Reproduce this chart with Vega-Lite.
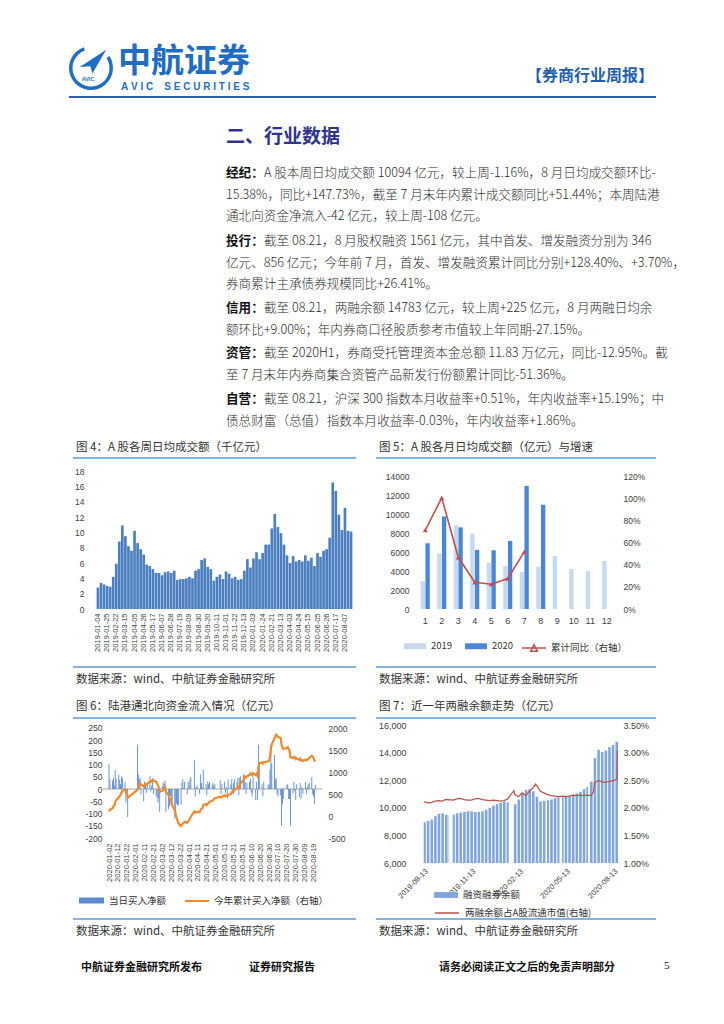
{
"$schema": "https://vega.github.io/schema/vega-lite/v6.json",
"background": "white",
"padding": {"left": 68, "top": 28, "right": 0, "bottom": 0},
"autosize": {"type": "pad"},
"bounds": "flush",
"columns": 2,
"spacing": {"row": 116, "column": 64},
"resolve": {"scale": {"color": "independent", "stroke": "independent"}},
"config": {
  "font": "Noto Sans CJK SC",
  "view": {"stroke": null},
  "axis": {"domain": false, "ticks": false, "grid": false, "labelFont": "Liberation Sans", "labelColor": "#404040", "labelFontSize": 8.5, "labelOverlap": false},
  "legend": {"labelFont": "Noto Sans CJK SC", "labelColor": "#333333", "labelFontSize": 9.5, "padding": 0},
  "text": {"font": "Noto Sans CJK SC"}
},
"concat": [
  {
    "width": 257, "height": 138,
    "layer": [
      {"data": {"values": [{"w":"2019-01-04","v":2.8},{"w":"2019-01-11","v":3.4},{"w":"2019-01-18","v":3.2},{"w":"2019-01-25","v":3.0},{"w":"2019-02-01","v":2.9},{"w":"2019-02-15","v":4.2},{"w":"2019-02-22","v":5.9},{"w":"2019-03-01","v":8.8},{"w":"2019-03-08","v":10.9},{"w":"2019-03-15","v":9.5},{"w":"2019-03-22","v":8.2},{"w":"2019-03-29","v":7.6},{"w":"2019-04-05","v":10.2},{"w":"2019-04-12","v":8.6},{"w":"2019-04-19","v":7.8},{"w":"2019-04-26","v":7.1},{"w":"2019-05-03","v":5.8},{"w":"2019-05-10","v":5.6},{"w":"2019-05-17","v":5.2},{"w":"2019-05-24","v":4.7},{"w":"2019-05-31","v":4.7},{"w":"2019-06-07","v":4.4},{"w":"2019-06-14","v":4.8},{"w":"2019-06-21","v":4.9},{"w":"2019-06-28","v":4.7},{"w":"2019-07-05","v":5.0},{"w":"2019-07-12","v":3.8},{"w":"2019-07-19","v":3.9},{"w":"2019-07-26","v":3.9},{"w":"2019-08-02","v":4.0},{"w":"2019-08-09","v":4.2},{"w":"2019-08-16","v":4.0},{"w":"2019-08-23","v":5.0},{"w":"2019-08-30","v":5.2},{"w":"2019-09-06","v":6.4},{"w":"2019-09-13","v":6.6},{"w":"2019-09-20","v":5.5},{"w":"2019-09-27","v":5.2},{"w":"2019-10-04","v":3.7},{"w":"2019-10-11","v":4.2},{"w":"2019-10-18","v":4.5},{"w":"2019-10-25","v":3.9},{"w":"2019-11-01","v":4.9},{"w":"2019-11-08","v":4.6},{"w":"2019-11-15","v":4.0},{"w":"2019-11-22","v":4.2},{"w":"2019-11-29","v":3.8},{"w":"2019-12-06","v":3.9},{"w":"2019-12-13","v":5.0},{"w":"2019-12-20","v":6.5},{"w":"2019-12-27","v":5.4},{"w":"2020-01-03","v":6.6},{"w":"2020-01-10","v":7.4},{"w":"2020-01-17","v":6.5},{"w":"2020-01-24","v":7.3},{"w":"2020-02-07","v":8.4},{"w":"2020-02-14","v":8.4},{"w":"2020-02-21","v":10.5},{"w":"2020-02-28","v":12.4},{"w":"2020-03-06","v":10.7},{"w":"2020-03-13","v":9.9},{"w":"2020-03-20","v":8.4},{"w":"2020-03-27","v":7.0},{"w":"2020-04-03","v":6.0},{"w":"2020-04-10","v":6.9},{"w":"2020-04-17","v":6.2},{"w":"2020-04-24","v":6.4},{"w":"2020-05-01","v":6.2},{"w":"2020-05-08","v":7.0},{"w":"2020-05-15","v":6.3},{"w":"2020-05-22","v":6.7},{"w":"2020-05-29","v":5.6},{"w":"2020-06-05","v":7.3},{"w":"2020-06-12","v":6.8},{"w":"2020-06-19","v":7.6},{"w":"2020-06-26","v":7.8},{"w":"2020-07-03","v":9.3},{"w":"2020-07-10","v":16.5},{"w":"2020-07-17","v":15.4},{"w":"2020-07-24","v":12.3},{"w":"2020-07-31","v":10.3},{"w":"2020-08-07","v":13.2},{"w":"2020-08-14","v":10.2},{"w":"2020-08-21","v":10.1}]},
       "mark": {"type": "bar", "color": "#4C7FC0"},
       "encoding": {
         "x": {"field": "w", "type": "ordinal", "sort": null, "title": null, "scale": {"paddingInner": 0.12, "paddingOuter": 0.2},
           "axis": {"values": ["2019-01-04","2019-01-25","2019-02-22","2019-03-15","2019-04-05","2019-04-26","2019-05-17","2019-06-07","2019-06-28","2019-07-19","2019-08-09","2019-08-30","2019-09-20","2019-10-11","2019-11-01","2019-11-22","2019-12-13","2020-01-03","2020-01-24","2020-02-21","2020-03-13","2020-04-03","2020-04-24","2020-05-15","2020-06-05","2020-06-26","2020-07-17","2020-08-07"], "labelAngle": 270, "labelAlign": "right", "labelBaseline": "middle", "labelFontSize": 7.5, "labelPadding": 4, "labelOverlap": false}},
         "y": {"field": "v", "type": "quantitative", "title": null, "scale": {"domain": [0, 18], "nice": false}, "axis": {"values": [0,2,4,6,8,10,12,14,16,18], "labelPadding": 12}}
       }},
      {"data": {"values": [{}]}, "mark": {"type": "rule", "strokeOpacity": 0}, "encoding": {"x": {"value": -27}, "x2": {"value": 0}, "y": {"value": -443}}},
      {"data": {"values": [{}]}, "mark": {"type": "rule", "color": "#2E5FA3", "strokeWidth": 2}, "encoding": {"x": {"value": -27}, "x2": {"value": 560}, "y": {"value": -374}}},
      {"data": {"values": [{}]}, "mark": {"type": "arc", "color": "#1F6EC4", "radius": 22, "radius2": 18.5, "theta": 1.0, "theta2": 5.95}, "encoding": {"x": {"value": -5}, "y": {"value": -403}}},
      {"data": {"values": [{}]}, "mark": {"type": "point", "shape": "M-1,0.3L1,-1L-0.05,0.8L-0.2,0.25Z", "size": 700, "filled": true, "color": "#1F6EC4", "opacity": 1}, "encoding": {"x": {"value": -3}, "y": {"value": -408}}},
      {"data": {"values": [{}]}, "mark": {"type": "text", "text": "AVIC", "fontSize": 5.5, "fontWeight": "bold", "font": "Liberation Sans", "color": "#1F6EC4", "align": "center", "baseline": "middle"}, "encoding": {"x": {"value": -8}, "y": {"value": -392}}},
      {"data": {"values": [{}]}, "mark": {"type": "text", "text": "中航证券", "fontSize": 33, "fontWeight": "bold", "color": "#1F6EC4", "align": "left", "baseline": "middle"}, "encoding": {"x": {"value": 22}, "y": {"value": -409}}},
      {"data": {"values": [{}]}, "mark": {"type": "text", "text": "A\u00a0V\u00a0I\u00a0C\u00a0\u00a0\u00a0\u00a0S\u00a0E\u00a0C\u00a0U\u00a0R\u00a0I\u00a0T\u00a0I\u00a0E\u00a0S", "fontSize": 10, "fontWeight": "bold", "font": "Liberation Sans", "color": "#1F6EC4", "align": "left", "baseline": "middle"}, "encoding": {"x": {"value": 25}, "y": {"value": -384}}},
      {"data": {"values": [{}]}, "mark": {"type": "text", "text": "【券商行业周报】", "fontSize": 16, "fontWeight": "bold", "color": "#1F5FAF", "align": "right", "baseline": "middle"}, "encoding": {"x": {"value": 558}, "y": {"value": -395}}},
      {"data": {"values": [{}]}, "mark": {"type": "text", "text": "二、行业数据", "fontSize": 19, "fontWeight": "bold", "color": "#2E3192", "align": "left", "baseline": "middle"}, "encoding": {"x": {"value": 130}, "y": {"value": -334}}},
      {"data": {"values": [{}]}, "mark": {"type": "text", "text": "经纪：", "fontSize": 12.6, "fontWeight": "bold", "color": "#111111", "align": "left", "baseline": "top"}, "encoding": {"x": {"value": 130}, "y": {"value": -304}}},
      {"data": {"values": [{}]}, "mark": {"type": "text", "text": "A 股本周日均成交额 10094 亿元，较上周-1.16%，8 月日均成交额环比-", "fontSize": 12.6, "fontWeight": 300, "color": "#2B2B2B", "align": "left", "baseline": "top"}, "encoding": {"x": {"value": 168}, "y": {"value": -304}}},
      {"data": {"values": [{}]}, "mark": {"type": "text", "text": ["15.38%，同比+147.73%，截至 7 月末年内累计成交额同比+51.44%；本周陆港", "通北向资金净流入-42 亿元，较上周-108 亿元。"], "fontSize": 12.6, "fontWeight": 300, "lineHeight": 21.5, "color": "#2B2B2B", "align": "left", "baseline": "top"}, "encoding": {"x": {"value": 130}, "y": {"value": -282.5}}},
      {"data": {"values": [{}]}, "mark": {"type": "text", "text": "投行：", "fontSize": 12.6, "fontWeight": "bold", "color": "#111111", "align": "left", "baseline": "top"}, "encoding": {"x": {"value": 130}, "y": {"value": -236}}},
      {"data": {"values": [{}]}, "mark": {"type": "text", "text": "截至 08.21，8 月股权融资 1561 亿元，其中首发、增发融资分别为 346", "fontSize": 12.6, "fontWeight": 300, "color": "#2B2B2B", "align": "left", "baseline": "top"}, "encoding": {"x": {"value": 168}, "y": {"value": -236}}},
      {"data": {"values": [{}]}, "mark": {"type": "text", "text": ["亿元、856 亿元；今年前 7 月，首发、增发融资累计同比分别+128.40%、+3.70%，", "券商累计主承债券规模同比+26.41%。"], "fontSize": 12.6, "fontWeight": 300, "lineHeight": 21.5, "color": "#2B2B2B", "align": "left", "baseline": "top"}, "encoding": {"x": {"value": 130}, "y": {"value": -214.5}}},
      {"data": {"values": [{}]}, "mark": {"type": "text", "text": "信用：", "fontSize": 12.6, "fontWeight": "bold", "color": "#111111", "align": "left", "baseline": "top"}, "encoding": {"x": {"value": 130}, "y": {"value": -169}}},
      {"data": {"values": [{}]}, "mark": {"type": "text", "text": "截至 08.21，两融余额 14783 亿元，较上周+225 亿元，8 月两融日均余", "fontSize": 12.6, "fontWeight": 300, "color": "#2B2B2B", "align": "left", "baseline": "top"}, "encoding": {"x": {"value": 168}, "y": {"value": -169}}},
      {"data": {"values": [{}]}, "mark": {"type": "text", "text": "额环比+9.00%；年内券商口径股质参考市值较上年同期-27.15%。", "fontSize": 12.6, "fontWeight": 300, "color": "#2B2B2B", "align": "left", "baseline": "top"}, "encoding": {"x": {"value": 130}, "y": {"value": -147.5}}},
      {"data": {"values": [{}]}, "mark": {"type": "text", "text": "资管：", "fontSize": 12.6, "fontWeight": "bold", "color": "#111111", "align": "left", "baseline": "top"}, "encoding": {"x": {"value": 130}, "y": {"value": -124}}},
      {"data": {"values": [{}]}, "mark": {"type": "text", "text": "截至 2020H1，券商受托管理资本金总额 11.83 万亿元，同比-12.95%。截", "fontSize": 12.6, "fontWeight": 300, "color": "#2B2B2B", "align": "left", "baseline": "top"}, "encoding": {"x": {"value": 168}, "y": {"value": -124}}},
      {"data": {"values": [{}]}, "mark": {"type": "text", "text": "至 7 月末年内券商集合资管产品新发行份额累计同比-51.36%。", "fontSize": 12.6, "fontWeight": 300, "color": "#2B2B2B", "align": "left", "baseline": "top"}, "encoding": {"x": {"value": 130}, "y": {"value": -102.5}}},
      {"data": {"values": [{}]}, "mark": {"type": "text", "text": "自营：", "fontSize": 12.6, "fontWeight": "bold", "color": "#111111", "align": "left", "baseline": "top"}, "encoding": {"x": {"value": 130}, "y": {"value": -78}}},
      {"data": {"values": [{}]}, "mark": {"type": "text", "text": "截至 08.21，沪深 300 指数本月收益率+0.51%，年内收益率+15.19%；中", "fontSize": 12.6, "fontWeight": 300, "color": "#2B2B2B", "align": "left", "baseline": "top"}, "encoding": {"x": {"value": 168}, "y": {"value": -78}}},
      {"data": {"values": [{}]}, "mark": {"type": "text", "text": "债总财富（总值）指数本月收益率-0.03%，年内收益率+1.86%。", "fontSize": 12.6, "fontWeight": 300, "color": "#2B2B2B", "align": "left", "baseline": "top"}, "encoding": {"x": {"value": 130}, "y": {"value": -56.5}}},
      {"data": {"values": [{}]}, "mark": {"type": "text", "text": "图 4：A 股各周日均成交额（千亿元）", "fontSize": 11.5, "color": "#333333", "align": "left", "baseline": "middle"}, "encoding": {"x": {"value": -20}, "y": {"value": -23}}},
      {"data": {"values": [{}]}, "mark": {"type": "rule", "color": "#5B9BD5", "strokeWidth": 1.3}, "encoding": {"x": {"value": -23}, "x2": {"value": 260}, "y": {"value": -13}}},
      {"data": {"values": [{}]}, "mark": {"type": "rule", "color": "#5B9BD5", "strokeWidth": 1.3}, "encoding": {"x": {"value": -23}, "x2": {"value": 260}, "y": {"value": 196}}},
      {"data": {"values": [{}]}, "mark": {"type": "text", "text": "数据来源：wind、中航证券金融研究所", "align": "left", "baseline": "middle", "fontSize": 11.5, "color": "#333333"}, "encoding": {"x": {"value": -20}, "y": {"value": 209}}},
      {"data": {"values": [{}]}, "mark": {"type": "text", "text": "中航证券金融研究所发布", "fontSize": 11, "fontWeight": "bold", "color": "#111111", "align": "left", "baseline": "middle"}, "encoding": {"x": {"value": -15}, "y": {"value": 497}}},
      {"data": {"values": [{}]}, "mark": {"type": "text", "text": "证券研究报告", "fontSize": 11, "fontWeight": "bold", "color": "#111111", "align": "left", "baseline": "middle"}, "encoding": {"x": {"value": 153}, "y": {"value": 497}}},
      {"data": {"values": [{}]}, "mark": {"type": "text", "text": "请务必阅读正文之后的免责声明部分", "fontSize": 11, "fontWeight": "bold", "color": "#111111", "align": "left", "baseline": "middle"}, "encoding": {"x": {"value": 343}, "y": {"value": 497}}},
      {"data": {"values": [{}]}, "mark": {"type": "text", "text": "5", "fontSize": 11, "font": "Liberation Serif", "color": "#111111", "align": "left", "baseline": "middle"}, "encoding": {"x": {"value": 568}, "y": {"value": 495}}}
    ]
  },
  {
    "width": 198, "height": 138,
    "layer": [
      {"data": {"values": [{"m":1,"yr":"2019","v":2950},{"m":2,"yr":"2019","v":5900},{"m":3,"yr":"2019","v":8870},{"m":4,"yr":"2019","v":8000},{"m":5,"yr":"2019","v":4900},{"m":6,"yr":"2019","v":4580},{"m":7,"yr":"2019","v":3940},{"m":8,"yr":"2019","v":4470},{"m":9,"yr":"2019","v":5630},{"m":10,"yr":"2019","v":4230},{"m":11,"yr":"2019","v":4010},{"m":12,"yr":"2019","v":5100},{"m":1,"yr":"2020","v":6970},{"m":2,"yr":"2020","v":9820},{"m":3,"yr":"2020","v":8660},{"m":4,"yr":"2020","v":6270},{"m":5,"yr":"2020","v":6230},{"m":6,"yr":"2020","v":7220},{"m":7,"yr":"2020","v":13060},{"m":8,"yr":"2020","v":11050}]},
       "mark": {"type": "bar"},
       "encoding": {
         "x": {"field": "m", "type": "ordinal", "title": null, "scale": {"paddingInner": 0.45, "paddingOuter": 0.225}, "axis": {"labelAngle": 0, "labelFontSize": 9, "labelPadding": 7}},
         "xOffset": {"field": "yr", "type": "nominal", "scale": {"paddingInner": 0.08}},
         "y": {"field": "v", "type": "quantitative", "title": null, "scale": {"domain": [0, 14636], "nice": false}, "axis": {"values": [0,2000,4000,6000,8000,10000,12000,14000], "labelExpr": "'' + datum.value", "labelPadding": 8}},
         "color": {"field": "yr", "type": "nominal", "scale": {"domain": ["2019","2020"], "range": ["#C5D9F1","#4A86D8"]}, "legend": {"title": null, "orient": "none", "legendX": -13, "legendY": 164, "direction": "horizontal", "symbolType": "M-1,-0.27H1V0.27H-1Z", "symbolSize": 484, "symbolStrokeWidth": 0, "labelOffset": 5, "columnPadding": 12}}
       }},
      {"data": {"values": [{"m":1,"p":0.717},{"m":2,"p":1.01},{"m":3,"p":0.47},{"m":4,"p":0.243},{"m":5,"p":0.225},{"m":6,"p":0.277},{"m":7,"p":0.52}]},
       "encoding": {
         "x": {"field": "m", "type": "ordinal"},
         "y": {"field": "p", "type": "quantitative", "title": null, "scale": {"domain": [0, 1.2545], "nice": false}, "axis": {"orient": "right", "values": [0,0.2,0.4,0.6,0.8,1.0,1.2], "format": ".0%", "labelPadding": 8}}
       },
       "layer": [
         {"mark": {"type": "line", "strokeWidth": 1.6}, "encoding": {"stroke": {"datum": "累计同比（右轴）", "scale": {"range": ["#C0504D"]}, "legend": {"title": null, "orient": "none", "legendX": 104, "legendY": 164, "symbolType": "M-1,0H1M-0.28,0.28L0,-0.28L0.28,0.28Z", "symbolSize": 576, "symbolStrokeWidth": 1.5, "labelOffset": 4}}}},
         {"mark": {"type": "point", "shape": "triangle-up", "filled": true, "size": 24, "color": "#C0504D", "opacity": 1}}
       ]},
      {"data": {"values": [{}]}, "mark": {"type": "text", "text": "图 5：A 股各月日均成交额（亿元）与增速", "fontSize": 11.5, "color": "#333333", "align": "left", "baseline": "middle"}, "encoding": {"x": {"value": -38}, "y": {"value": -23}}},
      {"data": {"values": [{}]}, "mark": {"type": "rule", "color": "#5B9BD5", "strokeWidth": 1.3}, "encoding": {"x": {"value": -41}, "x2": {"value": 239}, "y": {"value": -13}}},
      {"data": {"values": [{}]}, "mark": {"type": "rule", "color": "#5B9BD5", "strokeWidth": 1.3}, "encoding": {"x": {"value": -41}, "x2": {"value": 239}, "y": {"value": 196}}},
      {"data": {"values": [{}]}, "mark": {"type": "text", "text": "数据来源：wind、中航证券金融研究所", "align": "left", "baseline": "middle", "fontSize": 11.5, "color": "#333333"}, "encoding": {"x": {"value": -38}, "y": {"value": 209}}}
    ],
    "resolve": {"scale": {"y": "independent"}}
  },
  {
    "width": 227, "height": 113,
    "data": {"values": [
{"d":"2020-01-02","v":103,"c":103},{"d":"2020-01-03","v":40,"c":143},{"d":"2020-01-06","v":35,"c":178},{"d":"2020-01-07","v":45,"c":223},{"d":"2020-01-08","v":15,"c":238},{"d":"2020-01-09","v":78,"c":316},{"d":"2020-01-10","v":42,"c":358},{"d":"2020-01-13","v":60,"c":418},{"d":"2020-01-14","v":38,"c":456},{"d":"2020-01-15","v":20,"c":476},{"d":"2020-01-16","v":52,"c":528},{"d":"2020-01-17","v":46,"c":574},{"d":"2020-01-20","v":30,"c":604},{"d":"2020-01-21","v":-55,"c":549},{"d":"2020-01-22","v":-20,"c":529},{"d":"2020-01-23","v":-114,"c":415},
{"d":"2020-02-03","v":182,"c":597},{"d":"2020-02-04","v":60,"c":657},{"d":"2020-02-05","v":40,"c":697},{"d":"2020-02-06","v":45,"c":742},{"d":"2020-02-07","v":-22,"c":720},{"d":"2020-02-10","v":-50,"c":670},{"d":"2020-02-11","v":30,"c":700},{"d":"2020-02-12","v":25,"c":725},{"d":"2020-02-13","v":-15,"c":710},{"d":"2020-02-14","v":20,"c":730},{"d":"2020-02-17","v":54,"c":784},{"d":"2020-02-18","v":-10,"c":774},{"d":"2020-02-19","v":15,"c":789},{"d":"2020-02-20","v":38,"c":827},{"d":"2020-02-21","v":-20,"c":807},{"d":"2020-02-24","v":-30,"c":777},{"d":"2020-02-25","v":-32,"c":745},{"d":"2020-02-26","v":-55,"c":690},{"d":"2020-02-27","v":-40,"c":650},{"d":"2020-02-28","v":-95,"c":555},
{"d":"2020-03-02","v":12,"c":567},{"d":"2020-03-03","v":27,"c":594},{"d":"2020-03-04","v":20,"c":614},{"d":"2020-03-05","v":35,"c":649},{"d":"2020-03-06","v":-94,"c":555},{"d":"2020-03-09","v":-82,"c":473},{"d":"2020-03-10","v":-70,"c":403},{"d":"2020-03-11","v":-28,"c":375},{"d":"2020-03-12","v":-64,"c":311},{"d":"2020-03-13","v":-60,"c":251},{"d":"2020-03-16","v":-119,"c":132},{"d":"2020-03-17","v":-109,"c":23},{"d":"2020-03-18","v":-59,"c":-36},{"d":"2020-03-19","v":-66,"c":-102},{"d":"2020-03-20","v":-65,"c":-167},{"d":"2020-03-23","v":-63,"c":-230},{"d":"2020-03-24","v":25,"c":-205},{"d":"2020-03-25","v":40,"c":-165},{"d":"2020-03-26","v":5,"c":-160},{"d":"2020-03-27","v":30,"c":-130},{"d":"2020-03-30","v":-20,"c":-150},{"d":"2020-03-31","v":30,"c":-120},
{"d":"2020-04-01","v":15,"c":-105},{"d":"2020-04-02","v":40,"c":-65},{"d":"2020-04-03","v":50,"c":-15},{"d":"2020-04-07","v":120,"c":105},{"d":"2020-04-08","v":-30,"c":75},{"d":"2020-04-09","v":10,"c":85},{"d":"2020-04-10","v":15,"c":100},{"d":"2020-04-13","v":-20,"c":80},{"d":"2020-04-14","v":60,"c":140},{"d":"2020-04-15","v":25,"c":165},{"d":"2020-04-16","v":6,"c":171},{"d":"2020-04-17","v":80,"c":251},{"d":"2020-04-20","v":20,"c":271},{"d":"2020-04-21","v":-25,"c":246},{"d":"2020-04-22","v":30,"c":276},{"d":"2020-04-23","v":21,"c":297},{"d":"2020-04-24","v":30,"c":327},{"d":"2020-04-27","v":18,"c":345},{"d":"2020-04-28","v":25,"c":370},{"d":"2020-04-29","v":13,"c":383},{"d":"2020-04-30","v":20,"c":403},
{"d":"2020-05-06","v":36,"c":439},{"d":"2020-05-07","v":-20,"c":419},{"d":"2020-05-08","v":22,"c":441},{"d":"2020-05-11","v":30,"c":471},{"d":"2020-05-12","v":-15,"c":456},{"d":"2020-05-13","v":10,"c":466},{"d":"2020-05-14","v":-25,"c":441},{"d":"2020-05-15","v":39,"c":480},{"d":"2020-05-18","v":20,"c":500},{"d":"2020-05-19","v":40,"c":540},{"d":"2020-05-20","v":-10,"c":530},{"d":"2020-05-21","v":24,"c":554},{"d":"2020-05-22","v":40,"c":594},{"d":"2020-05-25","v":30,"c":624},{"d":"2020-05-26","v":48,"c":672},{"d":"2020-05-27","v":-25,"c":647},{"d":"2020-05-28","v":45,"c":692},{"d":"2020-05-29","v":53,"c":745},
{"d":"2020-06-01","v":60,"c":805},{"d":"2020-06-02","v":60,"c":865},{"d":"2020-06-03","v":30,"c":895},{"d":"2020-06-04","v":-20,"c":875},{"d":"2020-06-05","v":25,"c":900},{"d":"2020-06-08","v":30,"c":930},{"d":"2020-06-09","v":40,"c":970},{"d":"2020-06-10","v":-15,"c":955},{"d":"2020-06-11","v":-30,"c":925},{"d":"2020-06-12","v":49,"c":974},{"d":"2020-06-15","v":-45,"c":929},{"d":"2020-06-16","v":30,"c":959},{"d":"2020-06-17","v":-46,"c":913},{"d":"2020-06-18","v":181,"c":1094},{"d":"2020-06-19","v":108,"c":1202},{"d":"2020-06-22","v":20,"c":1222},{"d":"2020-06-23","v":-30,"c":1192},{"d":"2020-06-24","v":30,"c":1222},{"d":"2020-06-29","v":18,"c":1240},{"d":"2020-06-30","v":20,"c":1260},
{"d":"2020-07-01","v":80,"c":1340},{"d":"2020-07-02","v":180,"c":1520},{"d":"2020-07-03","v":105,"c":1625},{"d":"2020-07-06","v":140,"c":1765},{"d":"2020-07-07","v":40,"c":1805},{"d":"2020-07-08","v":44,"c":1849},{"d":"2020-07-09","v":-20,"c":1829},{"d":"2020-07-10","v":-30,"c":1799},{"d":"2020-07-13","v":-26,"c":1773},{"d":"2020-07-14","v":-150,"c":1623},{"d":"2020-07-15","v":-60,"c":1563},{"d":"2020-07-16","v":-40,"c":1523},{"d":"2020-07-17","v":5,"c":1528},{"d":"2020-07-20","v":17,"c":1545},{"d":"2020-07-21","v":20,"c":1565},{"d":"2020-07-22","v":-40,"c":1525},{"d":"2020-07-23","v":-40,"c":1485},{"d":"2020-07-24","v":-150,"c":1335},{"d":"2020-07-27","v":-19,"c":1316},{"d":"2020-07-28","v":30,"c":1346},{"d":"2020-07-29","v":-10,"c":1336},{"d":"2020-07-30","v":-45,"c":1291},{"d":"2020-07-31","v":20,"c":1311},
{"d":"2020-08-03","v":-33,"c":1278},{"d":"2020-08-04","v":25,"c":1303},{"d":"2020-08-05","v":-40,"c":1263},{"d":"2020-08-06","v":10,"c":1273},{"d":"2020-08-07","v":-19,"c":1254},{"d":"2020-08-10","v":30,"c":1284},{"d":"2020-08-11","v":-20,"c":1264},{"d":"2020-08-12","v":10,"c":1274},{"d":"2020-08-13","v":20,"c":1294},{"d":"2020-08-14","v":26,"c":1320},{"d":"2020-08-17","v":50,"c":1370},{"d":"2020-08-18","v":-20,"c":1350},{"d":"2020-08-19","v":-30,"c":1320},{"d":"2020-08-20","v":-60,"c":1260},{"d":"2020-08-21","v":18,"c":1278}
    ]},
    "layer": [
      {"layer": [
        {"mark": {"type": "rule", "color": "#D8D0C2", "strokeWidth": 1.3}, "encoding": {"y": {"datum": 0}, "x": {"value": 7}, "x2": {"value": 226}}},
        {"mark": {"type": "bar", "width": 0.9},
         "encoding": {
           "x": {"field": "d", "type": "temporal", "title": null, "scale": {"type": "utc", "domain": [1577145600000, 1598227200000], "nice": false},
             "axis": {"values": [1577923200000,1578787200000,1579651200000,1580515200000,1581379200000,1582243200000,1583107200000,1583971200000,1584835200000,1585699200000,1586563200000,1587427200000,1588291200000,1589155200000,1590019200000,1590883200000,1591747200000,1592611200000,1593475200000,1594339200000,1595203200000,1596067200000,1596931200000,1597795200000], "format": "%Y-%m-%d", "labelAngle": 270, "labelAlign": "right", "labelBaseline": "middle", "labelFontSize": 7.5, "labelPadding": 5, "labelOverlap": false, "labelFlush": false, "labelSeparation": 0}},
           "y": {"field": "v", "type": "quantitative"},
           "color": {"datum": "当日买入净额", "scale": {"range": ["#5B8CD1"]}, "legend": {"title": null, "orient": "none", "legendX": -17, "legendY": 163, "symbolType": "M-1,-0.24H1V0.24H-1Z", "symbolSize": 625, "symbolStrokeWidth": 0, "labelOffset": 5}}
         }}
       ],
       "encoding": {"y": {"field": "v", "type": "quantitative", "title": null, "scale": {"domain": [-200, 262.27], "nice": false, "zero": false}, "axis": {"values": [-200,-150,-100,-50,0,50,100,150,200,250], "labelExpr": "'' + datum.value", "offset": -7, "labelPadding": 1}}}
      },
      {"mark": {"type": "line", "strokeWidth": 2.2},
       "encoding": {
         "x": {"field": "d", "type": "temporal", "title": null, "axis": {"values": [1577923200000,1578787200000,1579651200000,1580515200000,1581379200000,1582243200000,1583107200000,1583971200000,1584835200000,1585699200000,1586563200000,1587427200000,1588291200000,1589155200000,1590019200000,1590883200000,1591747200000,1592611200000,1593475200000,1594339200000,1595203200000,1596067200000,1596931200000,1597795200000], "format": "%Y-%m-%d", "labelAngle": 270, "labelAlign": "right", "labelBaseline": "middle", "labelFontSize": 7.5, "labelPadding": 5, "labelOverlap": false, "labelFlush": false, "labelSeparation": 0}},
         "y": {"field": "c", "type": "quantitative", "title": null, "scale": {"domain": [-500, 2068.2], "nice": false, "zero": false}, "axis": {"orient": "right", "values": [-500,0,500,1000,1500,2000], "labelExpr": "'' + datum.value", "labelPadding": 5}},
         "stroke": {"datum": "今年累计买入净额（右轴）", "scale": {"range": ["#F08A2C"]}, "legend": {"title": null, "orient": "none", "legendX": 88, "legendY": 163, "symbolType": "stroke", "symbolSize": 576, "symbolStrokeWidth": 2, "labelOffset": 4}}
       }},
      {"data": {"values": [{}]}, "mark": {"type": "text", "text": "图 6：陆港通北向资金流入情况（亿元）", "fontSize": 11.5, "color": "#333333", "align": "left", "baseline": "middle"}, "encoding": {"x": {"value": -20}, "y": {"value": -18}}},
      {"data": {"values": [{}]}, "mark": {"type": "rule", "color": "#5B9BD5", "strokeWidth": 1.3}, "encoding": {"x": {"value": -23}, "x2": {"value": 260}, "y": {"value": -7}}},
      {"data": {"values": [{}]}, "mark": {"type": "rule", "color": "#5B9BD5", "strokeWidth": 1.3}, "encoding": {"x": {"value": -23}, "x2": {"value": 260}, "y": {"value": 194}}},
      {"data": {"values": [{}]}, "mark": {"type": "text", "text": "数据来源：wind、中航证券金融研究所", "align": "left", "baseline": "middle", "fontSize": 11.5, "color": "#333333"}, "encoding": {"x": {"value": -20}, "y": {"value": 207}}}
    ],
    "resolve": {"scale": {"y": "independent"}}
  },
  {
    "width": 201, "height": 138,
    "layer": [
      {"data": {"values": [
{"s":"2019-08-13","e":"2019-08-17","v":8950},{"s":"2019-08-19","e":"2019-08-24","v":9050},{"s":"2019-08-26","e":"2019-08-31","v":9150},{"s":"2019-09-02","e":"2019-09-07","v":9400},{"s":"2019-09-09","e":"2019-09-14","v":9550},{"s":"2019-09-16","e":"2019-09-21","v":9600},{"s":"2019-09-23","e":"2019-09-28","v":9500},{"s":"2019-09-30","e":"2019-10-01","v":9450},{"s":"2019-10-08","e":"2019-10-12","v":9500},{"s":"2019-10-14","e":"2019-10-19","v":9600},{"s":"2019-10-21","e":"2019-10-26","v":9650},{"s":"2019-10-28","e":"2019-11-02","v":9700},{"s":"2019-11-04","e":"2019-11-09","v":9750},{"s":"2019-11-11","e":"2019-11-16","v":9750},{"s":"2019-11-18","e":"2019-11-23","v":9700},{"s":"2019-11-25","e":"2019-11-30","v":9700},{"s":"2019-12-02","e":"2019-12-07","v":9750},{"s":"2019-12-09","e":"2019-12-14","v":9850},{"s":"2019-12-16","e":"2019-12-21","v":10000},{"s":"2019-12-23","e":"2019-12-28","v":10150},{"s":"2019-12-30","e":"2020-01-04","v":10250},{"s":"2020-01-06","e":"2020-01-11","v":10350},{"s":"2020-01-13","e":"2020-01-18","v":10450},{"s":"2020-01-20","e":"2020-01-24","v":10400},{"s":"2020-02-03","e":"2020-02-08","v":10250},{"s":"2020-02-10","e":"2020-02-15","v":10600},{"s":"2020-02-17","e":"2020-02-22","v":11000},{"s":"2020-02-24","e":"2020-02-29","v":11300},{"s":"2020-03-02","e":"2020-03-07","v":11350},{"s":"2020-03-09","e":"2020-03-14","v":11200},{"s":"2020-03-16","e":"2020-03-21","v":10800},{"s":"2020-03-23","e":"2020-03-28","v":10450},{"s":"2020-03-30","e":"2020-04-04","v":10500},{"s":"2020-04-07","e":"2020-04-11","v":10550},{"s":"2020-04-13","e":"2020-04-18","v":10600},{"s":"2020-04-20","e":"2020-04-25","v":10700},{"s":"2020-04-27","e":"2020-05-01","v":10750},{"s":"2020-05-06","e":"2020-05-09","v":10800},{"s":"2020-05-11","e":"2020-05-16","v":10800},{"s":"2020-05-18","e":"2020-05-23","v":10850},{"s":"2020-05-25","e":"2020-05-30","v":10950},{"s":"2020-06-01","e":"2020-06-06","v":11050},{"s":"2020-06-08","e":"2020-06-13","v":11150},{"s":"2020-06-15","e":"2020-06-20","v":11350},{"s":"2020-06-22","e":"2020-06-25","v":11500},{"s":"2020-06-29","e":"2020-07-04","v":11900},{"s":"2020-07-06","e":"2020-07-11","v":13600},{"s":"2020-07-13","e":"2020-07-18","v":14200},{"s":"2020-07-20","e":"2020-07-25","v":14050},{"s":"2020-07-27","e":"2020-08-01","v":14150},{"s":"2020-08-03","e":"2020-08-08","v":14400},{"s":"2020-08-10","e":"2020-08-15","v":14550},{"s":"2020-08-17","e":"2020-08-22","v":14780}
       ]},
       "mark": {"type": "bar"},
       "encoding": {
         "x": {"field": "s", "type": "temporal", "title": null, "scale": {"type": "utc", "domain": [1564531200000, 1598054400000], "nice": false},
           "axis": {"values": [1565654400000, 1573603200000, 1581552000000, 1589328000000, 1597276800000], "format": "%Y-%m-%d", "labelAngle": 315, "labelAlign": "right", "labelBaseline": "top", "labelFontSize": 7.5, "labelPadding": 4, "labelOverlap": false, "labelFlush": false}},
         "x2": {"field": "e"},
         "y": {"field": "v", "type": "quantitative", "title": null, "scale": {"domain": [6000, 16000], "nice": false, "zero": false}, "axis": {"values": [6000,8000,10000,12000,14000,16000], "format": ",d", "labelPadding": 11, "labelFontSize": 9}},
         "y2": {"datum": 6000},
         "color": {"datum": "融资融券余额", "scale": {"range": ["#7EA6DC"]}, "legend": {"title": null, "orient": "none", "legendX": 17, "legendY": 158, "symbolType": "M-1,-0.24H1V0.24H-1Z", "symbolSize": 576, "symbolStrokeWidth": 0, "labelOffset": 5}}
       }},
      {"data": {"values": [{"d":"2019-08-14","r":0.0211},{"d":"2019-08-21","r":0.0209},{"d":"2019-08-28","r":0.0210},{"d":"2019-09-04","r":0.0212},{"d":"2019-09-11","r":0.0213},{"d":"2019-09-18","r":0.0212},{"d":"2019-09-25","r":0.0215},{"d":"2019-10-09","r":0.0214},{"d":"2019-10-16","r":0.0216},{"d":"2019-10-23","r":0.0217},{"d":"2019-10-30","r":0.0215},{"d":"2019-11-06","r":0.0214},{"d":"2019-11-13","r":0.0214},{"d":"2019-11-20","r":0.0216},{"d":"2019-11-27","r":0.0217},{"d":"2019-12-04","r":0.0215},{"d":"2019-12-11","r":0.0214},{"d":"2019-12-18","r":0.0213},{"d":"2019-12-25","r":0.0214},{"d":"2020-01-02","r":0.0213},{"d":"2020-01-08","r":0.0212},{"d":"2020-01-15","r":0.0213},{"d":"2020-01-22","r":0.0216},{"d":"2020-02-03","r":0.0231},{"d":"2020-02-05","r":0.0224},{"d":"2020-02-12","r":0.0220},{"d":"2020-02-19","r":0.0227},{"d":"2020-02-26","r":0.0222},{"d":"2020-03-04","r":0.0230},{"d":"2020-03-11","r":0.0236},{"d":"2020-03-16","r":0.0243},{"d":"2020-03-20","r":0.0238},{"d":"2020-03-25","r":0.0230},{"d":"2020-04-01","r":0.0227},{"d":"2020-04-08","r":0.0224},{"d":"2020-04-15","r":0.0222},{"d":"2020-04-22","r":0.0221},{"d":"2020-04-29","r":0.0220},{"d":"2020-05-07","r":0.0221},{"d":"2020-05-13","r":0.0220},{"d":"2020-05-20","r":0.0221},{"d":"2020-05-27","r":0.0223},{"d":"2020-06-03","r":0.0222},{"d":"2020-06-10","r":0.0223},{"d":"2020-06-17","r":0.0222},{"d":"2020-06-24","r":0.0223},{"d":"2020-07-01","r":0.0222},{"d":"2020-07-06","r":0.0230},{"d":"2020-07-08","r":0.0246},{"d":"2020-07-15","r":0.0249},{"d":"2020-07-22","r":0.0247},{"d":"2020-07-29","r":0.0246},{"d":"2020-08-05","r":0.0248},{"d":"2020-08-12","r":0.0249},{"d":"2020-08-20","r":0.0252},{"d":"2020-08-21","r":0.0304}]},
       "mark": {"type": "line", "strokeWidth": 1.3},
       "encoding": {
         "x": {"field": "d", "type": "temporal"},
         "y": {"field": "r", "type": "quantitative", "title": null, "scale": {"domain": [0.01, 0.035], "nice": false, "zero": false}, "axis": {"orient": "right", "values": [0.01,0.015,0.02,0.025,0.03,0.035], "format": ".2%", "labelPadding": 5, "labelFontSize": 9}},
         "stroke": {"datum": "两融余额占A股流通市值(右轴)", "scale": {"range": ["#C0504D"]}, "legend": {"title": null, "orient": "none", "legendX": 17, "legendY": 175, "symbolType": "stroke", "symbolSize": 576, "symbolStrokeWidth": 1.5, "labelOffset": 5}}
       }},
      {"data": {"values": [{}]}, "mark": {"type": "text", "text": "图 7：近一年两融余额走势（亿元）", "fontSize": 11.5, "color": "#333333", "align": "left", "baseline": "middle"}, "encoding": {"x": {"value": -38}, "y": {"value": -18}}},
      {"data": {"values": [{}]}, "mark": {"type": "rule", "color": "#5B9BD5", "strokeWidth": 1.3}, "encoding": {"x": {"value": -41}, "x2": {"value": 239}, "y": {"value": -7}}},
      {"data": {"values": [{}]}, "mark": {"type": "rule", "color": "#5B9BD5", "strokeWidth": 1.3}, "encoding": {"x": {"value": -41}, "x2": {"value": 239}, "y": {"value": 194}}},
      {"data": {"values": [{}]}, "mark": {"type": "text", "text": "数据来源：wind、中航证券金融研究所", "align": "left", "baseline": "middle", "fontSize": 11.5, "color": "#333333"}, "encoding": {"x": {"value": -38}, "y": {"value": 207}}}
    ],
    "resolve": {"scale": {"y": "independent"}}
  }
]
}
